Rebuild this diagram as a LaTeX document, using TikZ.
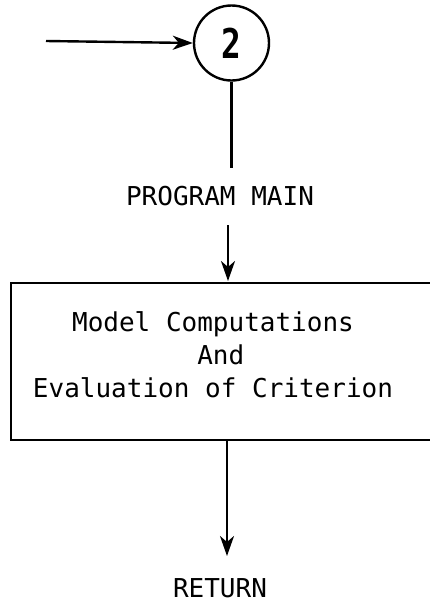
\documentclass[tikz,border=0pt]{standalone}
\usepackage{fontspec}
\newfontfamily\dmono{DejaVu Sans Mono}
\usetikzlibrary{arrows.meta}
\begin{document}
\begin{tikzpicture}[x=1pt,y=-1pt,
  ln/.style={line width=2.4pt,black},
  arr/.style={ln,-{Stealth[length=20pt,width=14pt,inset=6pt]}},
  lbl/.style={font=\fontsize{26}{33}\selectfont\dmono,inner sep=0pt}]
\useasboundingbox (0,0) rectangle (430,606);
\node[circle,draw,line width=2.4pt,minimum size=75pt,inner sep=0pt] (c2) at (231.5,43)
  {\fontsize{41}{41}\selectfont\dmono\bfseries\scalebox{0.8}[1]{2}};
\coordinate (start) at (46,41);
\node[lbl] (pm) at (220,196) {PROGRAM MAIN};
\node[draw,line width=2.4pt,minimum width=429pt,minimum height=157pt,inner sep=0pt] (box) at (225.5,361.5) {};
\node[lbl,align=center] (bt) at (213,355) {Model Computations\\\hspace*{0.6em}And\\Evaluation of Criterion};
\node[lbl] (ret) at (220,588) {RETURN};
\draw[arr] (start) -- (c2.west);
\draw[ln] (c2.south) -- (c2.south |- 0,168);
\draw[arr] (228,225) -- (228,281);
\draw[arr] (box.south -| 227,0) -- (227,556);
\end{tikzpicture}
\end{document}
